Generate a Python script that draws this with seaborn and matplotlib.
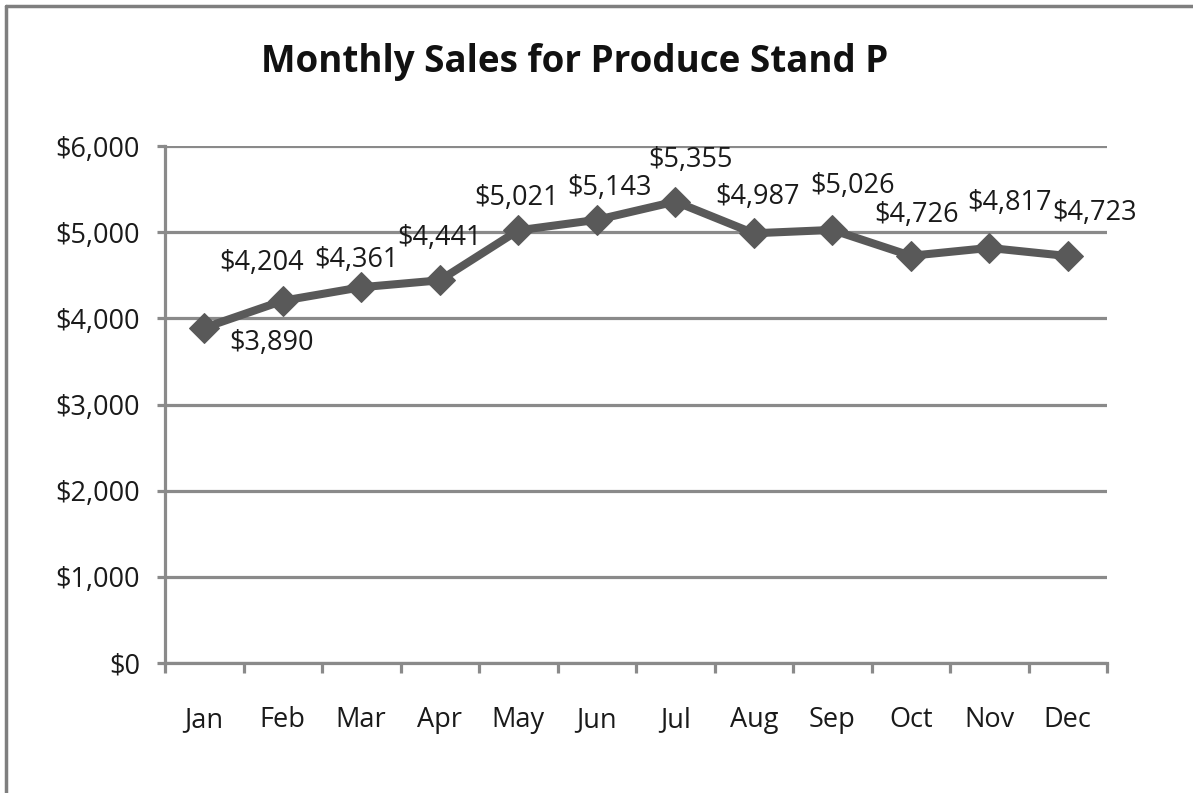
import matplotlib
matplotlib.use("Agg")
import matplotlib.pyplot as plt
from matplotlib.lines import Line2D
from matplotlib.ticker import FixedLocator, FuncFormatter
import seaborn as sns
import pandas as pd

months = ["Jan", "Feb", "Mar", "Apr", "May", "Jun",
          "Jul", "Aug", "Sep", "Oct", "Nov", "Dec"]
sales = [3890, 4204, 4361, 4441, 5021, 5143, 5355, 4987, 5026, 4726, 4817, 4723]
y_ticks = [0, 1000, 2000, 3000, 4000, 5000, 6000]
title = "Monthly Sales for Produce Stand P"

# per-label nudges (pixels) for the value annotations
label_dx = [67, -21, -5, 0, -2, 13, 15, 4, 20, 6, 20, 27]
label_dy = [-15, 38, 27, 42, 32, 32, 42, 36, 44, 41, 45, 43]

sns.set_theme(style="white")
plt.rcParams["font.family"] = ["Open Sans", "DejaVu Sans"]

W, H = 1193, 793
fig = plt.figure(figsize=(W / 100, H / 100), dpi=100)
ax = fig.add_axes([165 / W, 1 - 663 / H, (1107 - 165) / W, (663 - 146) / H])

df = pd.DataFrame({"month": months, "sales": sales})
line_color = "#595959"
grid_color = "#8a8a8a"
text_color = "#1a1a1a"
fs = 19.5

sns.lineplot(data=df, x="month", y="sales", ax=ax, color=line_color,
             linewidth=5.8, marker="D", markersize=15,
             markeredgecolor=line_color, markerfacecolor=line_color,
             sort=False, zorder=3)

ax.set_xlim(-0.5, len(months) - 0.5)
ax.set_ylim(0, 6000)

# horizontal gridlines
for v in y_ticks:
    ax.axhline(v, color=grid_color, linewidth=2.3, zorder=1)

ax.yaxis.set_major_locator(FixedLocator(y_ticks))
ax.yaxis.set_major_formatter(FuncFormatter(lambda v, p: f"${v:,.0f}"))
ax.tick_params(axis="y", which="major", length=6, width=2.3, color=grid_color,
               direction="out", left=True, pad=12, labelsize=fs, labelcolor=text_color)

# category boundary ticks and centered labels
ax.xaxis.set_major_locator(FixedLocator([i - 0.5 for i in range(len(months) + 1)]))
ax.xaxis.set_major_formatter(FuncFormatter(lambda v, p: ""))
ax.xaxis.set_minor_locator(FixedLocator(list(range(len(months)))))
ax.set_xticklabels(months, minor=True)
ax.tick_params(axis="x", which="major", length=7.5, width=2.3, color=grid_color,
               direction="out", bottom=True)
ax.tick_params(axis="x", which="minor", length=0, pad=31, labelsize=fs,
               labelcolor=text_color)

ax.set_xlabel("")
ax.set_ylabel("")
for side in ["top", "right"]:
    ax.spines[side].set_visible(False)
for side in ["left", "bottom"]:
    ax.spines[side].set_color(grid_color)
    ax.spines[side].set_linewidth(2.3)

for i, (m, v) in enumerate(zip(months, sales)):
    ax.annotate(f"${v:,}", xy=(i, v), xytext=(label_dx[i], label_dy[i]),
                textcoords="offset pixels", ha="center", va="center",
                fontsize=fs, color=text_color, zorder=4)

fig.text(575 / W, 1 - 62 / H, title, ha="center", va="center",
         fontsize=26.5, fontweight="bold", color="#111111")

# outer frame on the left and top edges
frame_color = "#7f7f7f"
fig.add_artist(Line2D([6 / W, 6 / W], [0, 1 - 6 / H], transform=fig.transFigure,
                      color=frame_color, linewidth=2.5))
fig.add_artist(Line2D([6 / W, 1], [1 - 6 / H, 1 - 6 / H], transform=fig.transFigure,
                      color=frame_color, linewidth=2.5))

fig.savefig("out.png", dpi=100)
